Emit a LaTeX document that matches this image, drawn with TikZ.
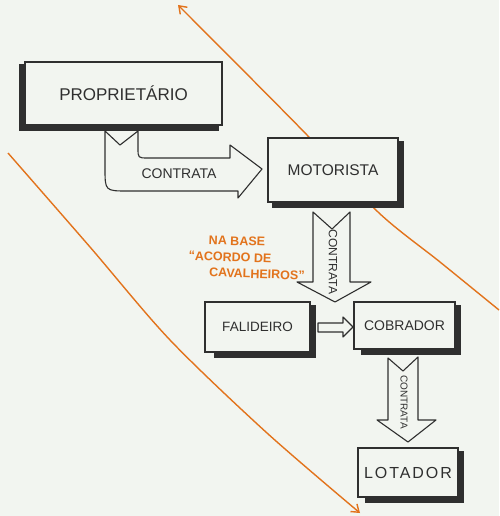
\documentclass[tikz,border=0pt]{standalone}
\usepackage{fontspec}
\setmainfont{Liberation Sans}
\usetikzlibrary{arrows.meta}
\definecolor{paper}{HTML}{F2F5F0}
\definecolor{ink}{HTML}{2F2F2F}
\definecolor{marker}{HTML}{E2731C}
\tikzset{
  box/.style={draw=ink, line width=1.1pt, fill=paper, inner sep=0pt, text=ink},
  shad/.style={draw=ink, line width=5pt, line join=miter},
  blk/.style={draw=ink, line width=1.1pt, fill=paper, line join=round},
  lab/.style={text=ink, inner sep=0pt},
  orangeline/.style={draw=marker, line width=1.4pt, -{Straight Barb[length=7pt,width=10pt]}},
  note/.style={text=marker, font=\bfseries\fontsize{12.5}{12.5}\selectfont, inner sep=0pt, rotate=-2}
}
\begin{document}
\begin{tikzpicture}[x=1pt,y=-1pt]
\fill[paper] (0,0) rectangle (499,516);
\useasboundingbox (0,0) rectangle (499,516);

% orange guide lines
\draw[orangeline] plot[smooth] coordinates {(499,310) (440,262) (378,212) (307,135) (178,5)};
\draw[orangeline] plot[smooth] coordinates {(8,153) (90,247) (170,340) (267,433) (360,513)};

% block arrows
\draw[blk] (105,131) -- (120,145) -- (138,131) -- (138,148)
  .. controls (138,158) .. (148,158) -- (230,158) -- (230,145) -- (262,169)
  -- (238,198) -- (238,191) -- (128,191) .. controls (105,191) .. (105,168) -- cycle;
\draw[blk] (313,212) -- (332,229) -- (350,212) -- (350,282) -- (371,282)
  -- (335,302) -- (297,282) -- (313,282) -- cycle;
\draw[blk] (388,358) -- (403,371) -- (418,357) -- (418,420) -- (436,420)
  -- (408,442) -- (377,420) -- (388,420) -- cycle;
\draw[blk] (318,323) -- (343,323) -- (343,317) -- (353,327) -- (343,337)
  -- (343,332) -- (318,332) -- cycle;

% boxes
\node[box, minimum width=197pt, minimum height=63pt, font=\fontsize{17}{17}\selectfont] (prop) at (123.5,93.5) {PROPRIETÁRIO};
\node[box, minimum width=130pt, minimum height=64pt, font=\fontsize{15.5}{15.5}\selectfont] (mot) at (333,170) {MOTORISTA};
\node[box, minimum width=105pt, minimum height=50pt, font=\fontsize{13.5}{13.5}\selectfont] (fal) at (257.5,327) {FALIDEIRO};
\node[box, minimum width=101pt, minimum height=47pt, font=\fontsize{14}{14}\selectfont] (cob) at (404.5,325.5) {COBRADOR};
\node[box, minimum width=100pt, minimum height=49pt, font=\fontsize{16}{16}\selectfont\addfontfeatures{LetterSpace=12}] (lot) at (408,472.5) {LOTADOR};

% shadows
\draw[shad] ([shift={(-2.5,3)}]prop.north west) -- ([shift={(-2.5,2.5)}]prop.south west) -- ([shift={(-4,2.5)}]prop.south east);
\draw[shad] ([shift={(3,4)}]mot.north east) -- ([shift={(3,3)}]mot.south east) -- ([shift={(5,3)}]mot.south west);
\draw[shad] ([shift={(3,4)}]fal.north east) -- ([shift={(3,3)}]fal.south east) -- ([shift={(10,3)}]fal.south west);
\draw[shad] ([shift={(3,4)}]cob.north east) -- ([shift={(3,3)}]cob.south east) -- ([shift={(8,3)}]cob.south west);
\draw[shad] ([shift={(3,4)}]lot.north east) -- ([shift={(3,3)}]lot.south east) -- ([shift={(8,3)}]lot.south west);

% arrow labels
\node[lab, font=\fontsize{14}{14}\selectfont] (c1) at (179,174) {CONTRATA};
\node[lab, rotate=-90, font=\fontsize{12}{12}\selectfont] (c2) at (333,262) {CONTRATA};
\node[lab, rotate=-90, font=\fontsize{10}{10}\selectfont] (c3) at (404,402) {CONTRATA};

% orange note
\node[note] (n1) at (237,241) {NA BASE};
\node[note] (n2) at (230,257) {“ACORDO DE};
\node[note] (n3) at (257,274) {CAVALHEIROS”};
\end{tikzpicture}
\end{document}
